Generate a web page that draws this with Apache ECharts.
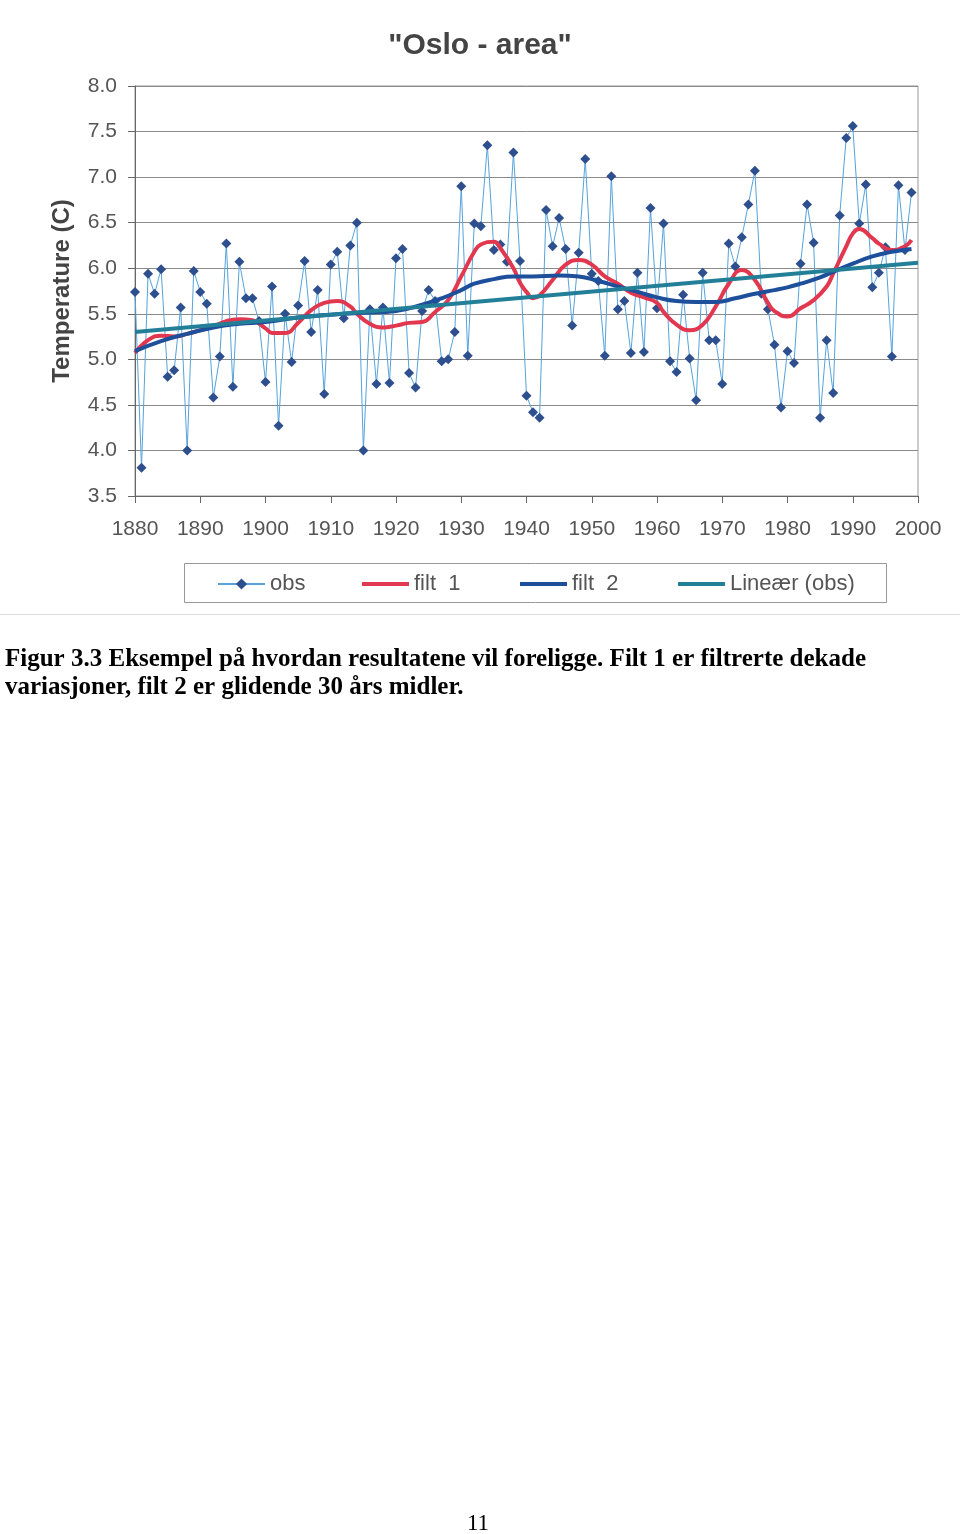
<!DOCTYPE html>
<html>
<head>
<meta charset="utf-8">
<script src="https://cdn.jsdelivr.net/npm/echarts@6/dist/echarts.min.js"></script>
<style>
html,body{margin:0;padding:0;background:#fff;}
#chart{width:960px;height:1534px;}
</style>
</head>
<body>
<div id="chart"></div>
<script>
// ---- data ----
const years = [];
for (let y = 1880; y <= 1999; y++) years.push(y);
const obs = [
5.74,3.81,5.94,5.72,5.99,4.81,4.88,5.57,4.00,5.97,
5.74,5.61,4.58,5.03,6.27,4.70,6.07,5.67,5.67,5.42,
4.75,5.80,4.27,5.50,4.97,5.59,6.08,5.30,5.76,4.62,
6.04,6.18,5.45,6.25,6.50,4.00,5.55,4.73,5.57,4.74,
6.11,6.21,4.85,4.69,5.53,5.76,5.64,4.98,5.00,5.30,
6.90,5.04,6.49,6.46,7.35,6.20,6.26,6.07,7.27,6.08,
4.60,4.42,4.36,6.64,6.24,6.55,6.21,5.37,6.17,7.20,
5.94,5.86,5.04,7.01,5.55,5.64,5.07,5.95,5.08,6.66,
5.56,6.49,4.98,4.86,5.71,5.01,4.55,5.95,5.21,5.21,
4.73,6.27,6.02,6.34,6.70,7.07,5.72,5.55,5.16,4.47,
5.09,4.96,6.05,6.70,6.28,4.36,5.21,4.63,6.58,7.43,
7.56,6.49,6.92,5.79,5.95,6.23,5.03,6.91,6.20,6.83
];
const filt1Years = [1880,1882,1884,1886,1888,1890,1892,1894,1896,1898,1900,1901,1903,1905,1907,1909,1911,1913,1914,1916,1918,1920,1922,1924,1926,1928,1930,1932,1933,1935,1936,1938,1939,1940,1941,1942,1944,1946,1948,1950,1952,1954,1956,1958,1960,1961,1963,1965,1967,1969,1971,1973,1975,1977,1978,1980,1982,1984,1986,1987,1989,1990,1991,1993,1994,1996,1998,1999];
const filt1 = [5.07,5.21,5.26,5.25,5.28,5.32,5.36,5.42,5.44,5.43,5.34,5.29,5.29,5.40,5.54,5.62,5.64,5.58,5.50,5.39,5.35,5.37,5.40,5.41,5.52,5.65,5.91,6.18,6.26,6.29,6.22,6.00,5.84,5.74,5.67,5.70,5.87,6.04,6.09,6.04,5.91,5.83,5.73,5.68,5.62,5.52,5.38,5.32,5.38,5.58,5.83,5.98,5.87,5.62,5.53,5.47,5.56,5.65,5.80,5.94,6.24,6.38,6.43,6.33,6.27,6.20,6.24,6.31];
const filt2Years = [1880,1884,1888,1892,1896,1900,1905,1910,1915,1920,1924,1927,1930,1932,1935,1938,1941,1945,1948,1951,1954,1957,1960,1963,1966,1969,1972,1975,1978,1980,1982,1985,1987,1990,1993,1996,1999];
const filt2 = [5.09,5.20,5.28,5.35,5.39,5.41,5.46,5.49,5.51,5.53,5.60,5.67,5.76,5.83,5.88,5.91,5.91,5.92,5.91,5.86,5.80,5.74,5.68,5.64,5.63,5.63,5.67,5.72,5.76,5.79,5.83,5.90,5.96,6.05,6.13,6.18,6.21];
const linYears = [1880, 2000];
const linVals = [5.30, 6.06];
const xTicks = [1880,1890,1900,1910,1920,1930,1940,1950,1960,1970,1980,1990,2000];
const seriesNames = ['obs', 'filt  1', 'filt  2', 'Lineær (obs)'];
const titleText = '"Oslo - area"';
const yName = 'Temperature (C)';
const caption1 = 'Figur 3.3 Eksempel på hvordan resultatene vil foreligge. Filt 1 er filtrerte dekade';
const caption2 = 'variasjoner, filt 2 er glidende 30 års midler.';
const pageNo = '11';

const pair = (xs, vs) => xs.map((x, i) => [x, vs[i]]);

const chart = echarts.init(document.getElementById('chart'), null, {renderer: 'canvas'});
const font = '"Liberation Sans", Arial, sans-serif';
const serif = '"Liberation Serif", "Times New Roman", serif';
const legendBase = (name, left, plainLine) => ({
  data: [plainLine ? {name: name, icon: 'rect'} : name],
  left: left, top: 573, itemWidth: 47, itemHeight: plainLine ? 4 : 14,
  padding: 0, textStyle: {fontFamily: font, fontSize: 22, color: '#555'}
});

chart.setOption({
  animation: false,
  backgroundColor: '#fff',
  title: {
    text: titleText, left: 'center', top: 26,
    textStyle: {fontFamily: font, fontSize: 30, fontWeight: 'bold', color: '#444'}
  },
  grid: {left: 135, right: 42, top: 86, height: 410, show: true, borderColor: '#999', borderWidth: 1},
  xAxis: {
    type: 'value', min: 1880, max: 2000, interval: 10,
    axisLine: {lineStyle: {color: '#666', width: 1}},
    axisTick: {show: true, length: 7, lineStyle: {color: '#666'}},
    axisLabel: {margin: 23, fontFamily: font, fontSize: 21, color: '#555',
      formatter: v => xTicks.includes(v) ? String(v) : ''},
    splitLine: {show: false}
  },
  yAxis: {
    type: 'value', min: 3.5, max: 8.0, interval: 0.5,
    axisLine: {show: true, lineStyle: {color: '#666', width: 1}},
    axisTick: {show: true, length: 7, lineStyle: {color: '#666'}},
    axisLabel: {margin: 18, fontFamily: font, fontSize: 21, color: '#555', formatter: v => v.toFixed(1)},
    splitLine: {show: true, lineStyle: {color: '#8a8a8a', width: 1}}
  },
  legend: [
    legendBase(seriesNames[0], 217, false),
    legendBase(seriesNames[1], 362, true),
    legendBase(seriesNames[2], 520, true),
    legendBase(seriesNames[3], 678, true)
  ],
  series: [
    {
      name: seriesNames[0], type: 'line', data: pair(years, obs),
      symbol: 'diamond', symbolSize: 10, showAllSymbol: true,
      lineStyle: {color: '#55a3dc', width: 1},
      itemStyle: {color: '#2e4f8e'}, z: 2
    },
    {
      name: seriesNames[1], type: 'line', data: pair(filt1Years, filt1),
      smooth: 0.5, symbol: 'none',
      lineStyle: {color: '#e2384f', width: 4}, itemStyle: {color: '#e2384f'}, z: 3
    },
    {
      name: seriesNames[2], type: 'line', data: pair(filt2Years, filt2),
      smooth: 0.5, symbol: 'none',
      lineStyle: {color: '#1d4f9a', width: 4}, itemStyle: {color: '#1d4f9a'}, z: 4
    },
    {
      name: seriesNames[3], type: 'line', data: pair(linYears, linVals),
      symbol: 'none',
      lineStyle: {color: '#237f98', width: 4}, itemStyle: {color: '#237f98'}, z: 5
    }
  ],
  graphic: [
    {type: 'text', x: 62, y: 291, rotation: Math.PI / 2,
      style: {text: yName, fontFamily: font, fontSize: 24, fontWeight: 'bold', fill: '#444',
        align: 'center', verticalAlign: 'middle'}},
    {type: 'rect', shape: {x: 184.5, y: 563.5, width: 702, height: 39},
      style: {fill: 'none', stroke: '#999', lineWidth: 1}},
    {type: 'line', shape: {x1: 0, y1: 614.5, x2: 960, y2: 614.5},
      style: {stroke: '#ddd', lineWidth: 1}},
    {type: 'text', x: 5, y: 660,
      style: {text: caption1, fontFamily: serif, fontSize: 25, fontWeight: 'bold', fill: '#000', verticalAlign: 'middle'}},
    {type: 'text', x: 5, y: 688,
      style: {text: caption2, fontFamily: serif, fontSize: 25, fontWeight: 'bold', fill: '#000', verticalAlign: 'middle'}},
    {type: 'text', x: 478, y: 1524,
      style: {text: pageNo, fontFamily: serif, fontSize: 23, fill: '#000', align: 'center', verticalAlign: 'middle'}}
  ]
});
</script>
</body>
</html>
